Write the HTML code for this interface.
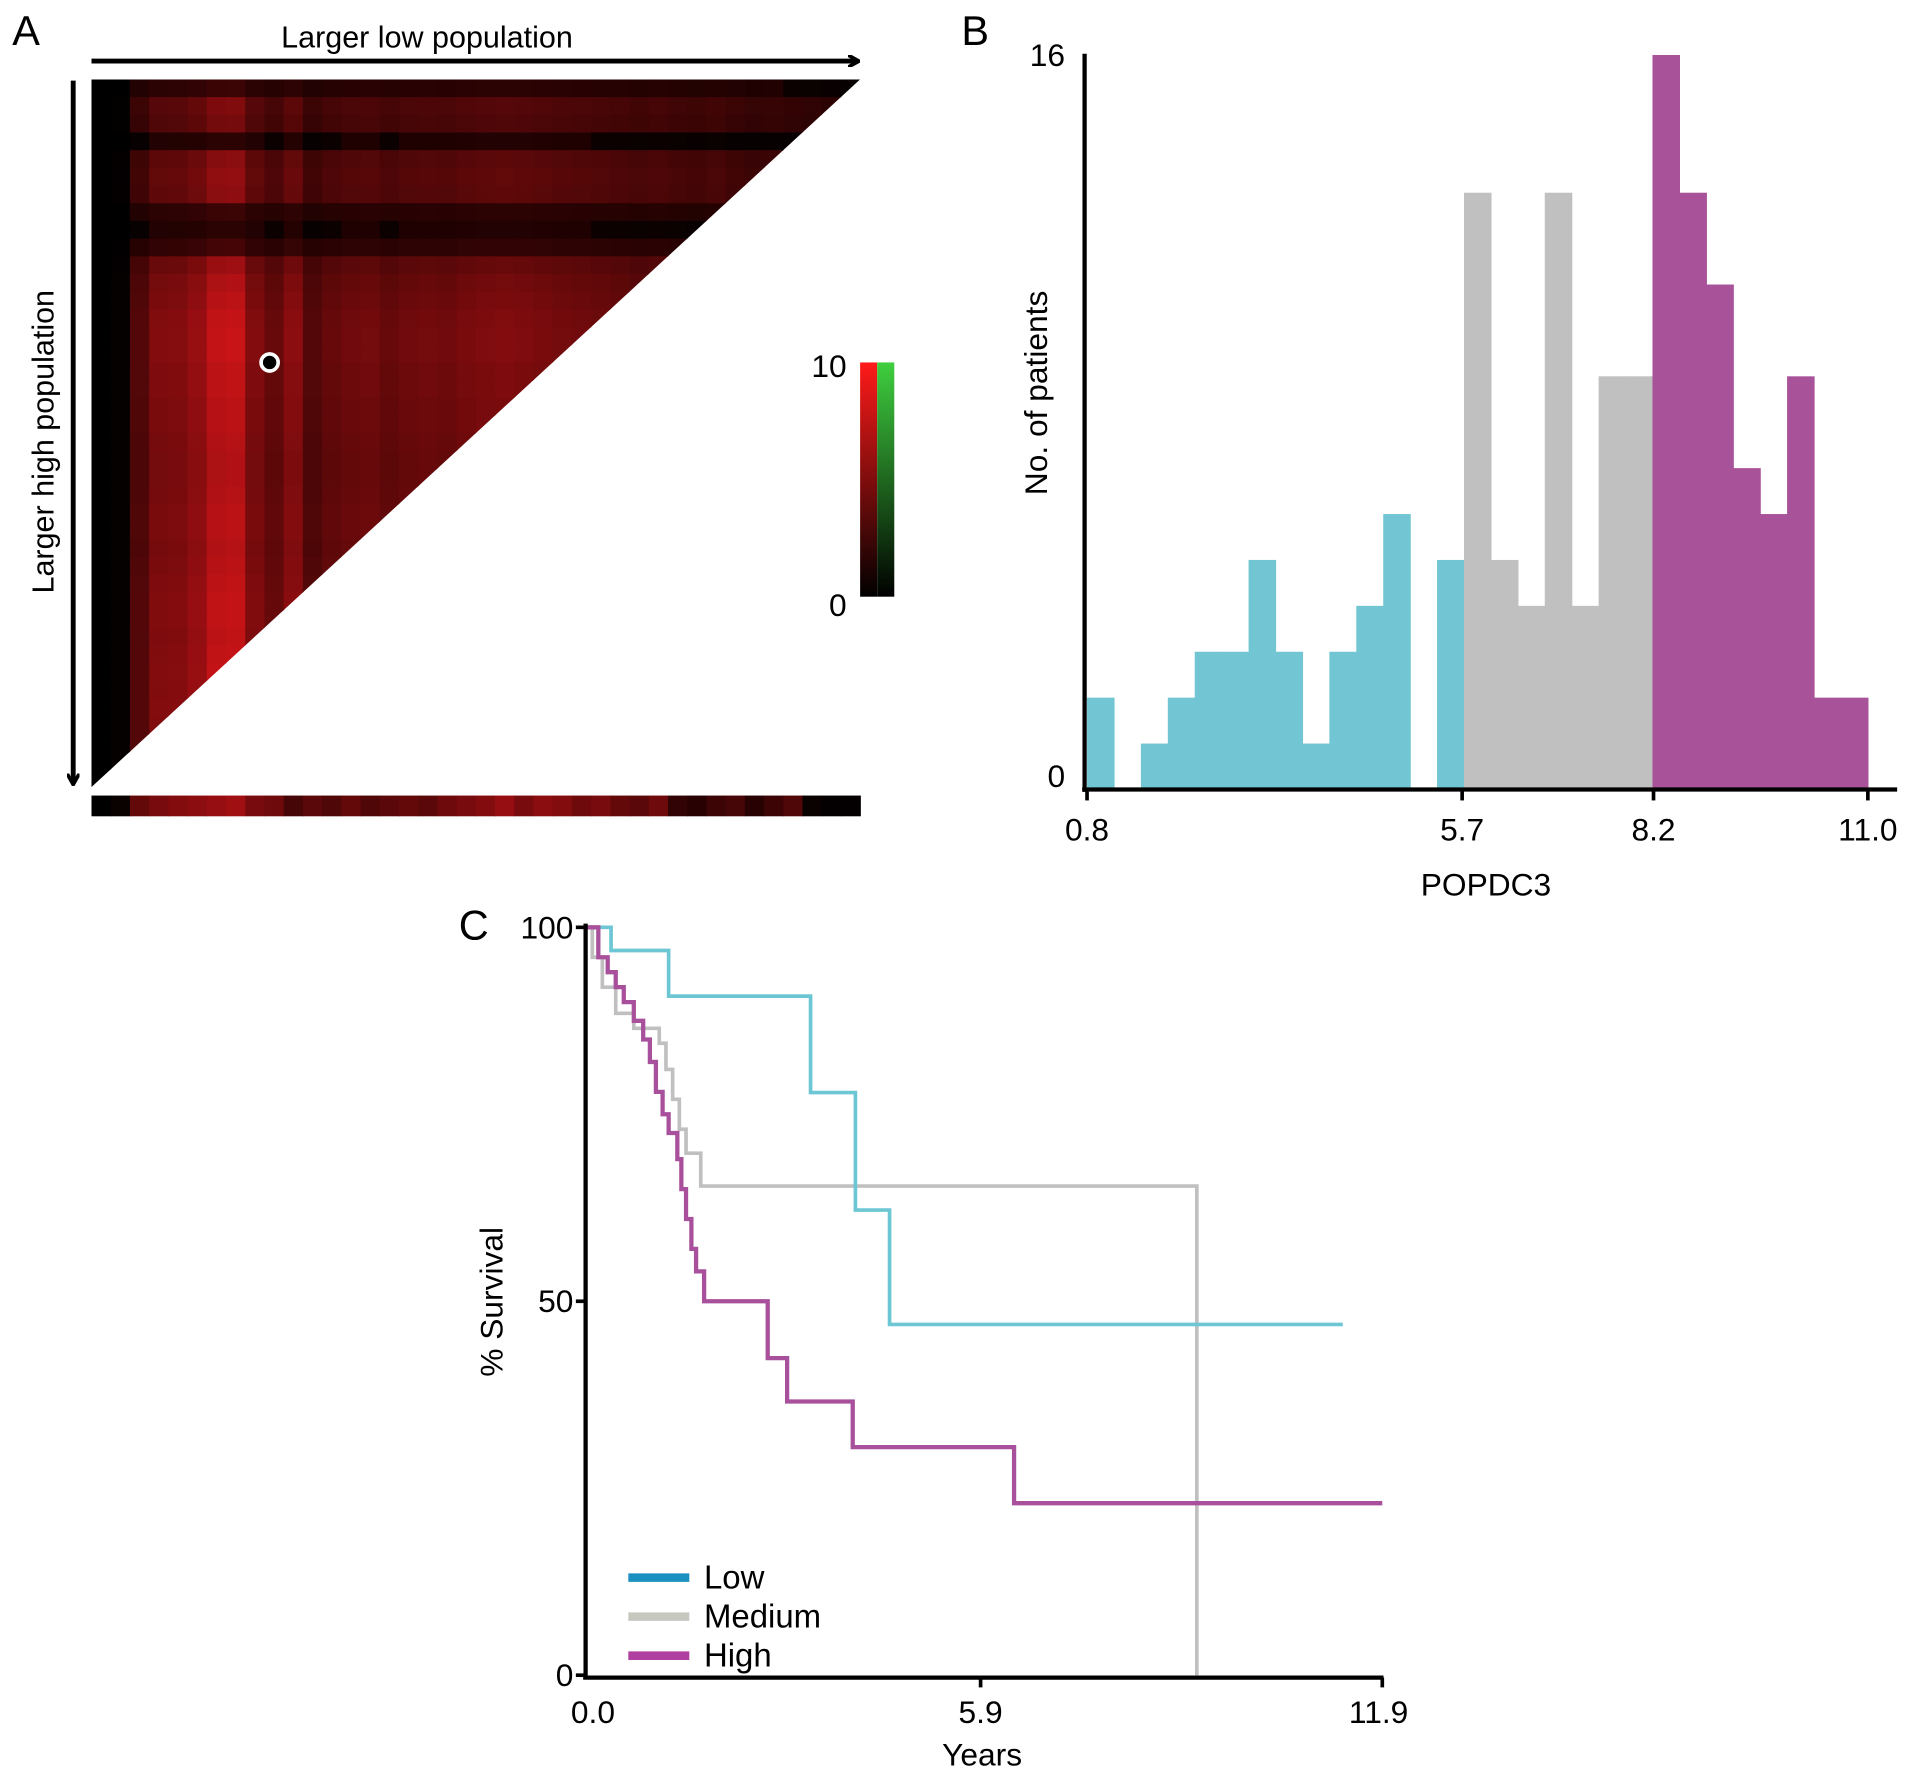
<!DOCTYPE html>
<html><head><meta charset="utf-8"><style>
html,body{margin:0;padding:0;background:#fff;}
svg{display:block;font-family:"Liberation Sans",Arial,sans-serif;}
</style></head><body>
<svg id="fig" width="1913" height="1779" viewBox="0 0 1568 1458" xmlns="http://www.w3.org/2000/svg">
<defs>
<clipPath id="tri"><polygon points="75,65 705,65 75,645"/></clipPath>
<linearGradient id="cbR" x1="0" y1="0" x2="0" y2="1"><stop offset="0" stop-color="#ff1a1a"/><stop offset="1" stop-color="#000"/></linearGradient>
<linearGradient id="cbG" x1="0" y1="0" x2="0" y2="1"><stop offset="0" stop-color="#3fcf3f"/><stop offset="1" stop-color="#000"/></linearGradient>
<marker id="ah" markerWidth="10" markerHeight="10" refX="8" refY="5" orient="auto" markerUnits="userSpaceOnUse"><path d="M0,0 L9,5 L0,10" fill="none" stroke="#000" stroke-width="3"/></marker>
</defs>
<!-- Panel A -->
<text x="10" y="37" font-size="34">A</text>
<line x1="75" y1="50" x2="703" y2="50" stroke="#000" stroke-width="4" marker-end="url(#ah)"/>
<text x="350" y="39" font-size="25" text-anchor="middle">Larger low population</text>
<line x1="60" y1="66" x2="60" y2="642" stroke="#000" stroke-width="4" marker-end="url(#ah)"/>
<text transform="translate(44,362) rotate(-90)" font-size="25" text-anchor="middle">Larger high population</text>
<g id="heat" clip-path="url(#tri)"></g>
<g id="strip"></g>
<circle cx="221" cy="297" r="7" fill="#000" stroke="#fff" stroke-width="3"/>
<rect x="705" y="297" width="14" height="192" fill="url(#cbR)"/>
<rect x="719" y="297" width="14" height="192" fill="url(#cbG)"/>
<text x="694" y="309" font-size="26" text-anchor="end">10</text>
<text x="694" y="505" font-size="26" text-anchor="end">0</text>
<!-- Panel B -->
<text x="788" y="37" font-size="34">B</text>
<g id="hist"></g>
<line x1="889" y1="44" x2="889" y2="649" stroke="#000" stroke-width="3.5"/>
<line x1="887" y1="647" x2="1555" y2="647" stroke="#000" stroke-width="3.5"/>
<g id="histTicks"></g>
<text transform="translate(858,322) rotate(-90)" font-size="26" text-anchor="middle">No. of patients</text>
<text x="1218" y="734" font-size="26" text-anchor="middle">POPDC3</text>
<!-- Panel C -->
<text x="376" y="770" font-size="34">C</text>
<g id="km"></g>
<line x1="480" y1="757" x2="480" y2="1376" stroke="#000" stroke-width="3.5"/>
<line x1="478" y1="1375" x2="1134" y2="1375" stroke="#000" stroke-width="3.5"/>
<g id="kmTicks"></g>
<text transform="translate(412,1067) rotate(-90)" font-size="26" text-anchor="middle">% Survival</text>
<text x="805" y="1447" font-size="26" text-anchor="middle">Years</text>
<g>
<line x1="515" y1="1293" x2="565" y2="1293" stroke="#1a8fc0" stroke-width="7"/>
<text x="577" y="1302" font-size="27">Low</text>
<line x1="515" y1="1325" x2="565" y2="1325" stroke="#c6c8c0" stroke-width="7"/>
<text x="577" y="1334" font-size="27">Medium</text>
<line x1="515" y1="1357" x2="565" y2="1357" stroke="#b040a0" stroke-width="7"/>
<text x="577" y="1366" font-size="27">High</text>
</g>
</svg>
<script>
var NS="http://www.w3.org/2000/svg";
// Heatmap intensity profiles
var heatCols=[0,0.03,0.35,0.6,0.62,0.72,0.95,0.98,0.6,0.45,0.65,0.35,0.45,0.5,0.52,0.45,0.5,0.52,0.5,0.55,0.58,0.6,0.58,0.55,0.52,0.5,0.48,0.45,0.42,0.45,0.4,0.38,0.42,0.35,0.3,0.32,0.28,0.25,0.22,0.2];
var heatRows=[0.2,0.55,0.5,0.12,0.6,0.65,0.62,0.2,0.12,0.25,0.7,0.8,0.85,0.9,0.92,0.92,0.88,0.88,0.85,0.85,0.82,0.8,0.8,0.82,0.85,0.85,0.82,0.85,0.88,0.9,0.9,0.88,0.9,0.92,0.9,0.92,0.9,0.92,0.9,0.9];
var stripVals=[0,0.05,0.4,0.5,0.55,0.6,0.65,0.7,0.5,0.45,0.25,0.35,0.3,0.4,0.3,0.35,0.4,0.35,0.45,0.5,0.55,0.65,0.5,0.6,0.55,0.45,0.5,0.4,0.35,0.45,0.15,0.1,0.2,0.25,0.1,0.2,0.3,0.05,0.02,0.02];
function heatColor(v){var r=Math.round(20+v*200),g=Math.round(v*22),b=Math.round(v*26);if(v<0.06){r=Math.round(v*200);}return "rgb("+r+","+g+","+b+")";}
var hg=document.getElementById('heat');
var cw=630/heatCols.length, rh=580/heatRows.length;
heatRows.forEach(function(rv,j){heatCols.forEach(function(cv,i){
  var r=document.createElementNS(NS,'rect');
  r.setAttribute('x',75+i*cw);r.setAttribute('y',65+j*rh);r.setAttribute('width',cw+0.6);r.setAttribute('height',rh+0.6);
  r.setAttribute('fill',heatColor(cv*rv));
  
  
  hg.appendChild(r);});});
var sg=document.getElementById('strip');
stripVals.forEach(function(v,i){var r=document.createElementNS(NS,'rect');
  r.setAttribute('x',75+i*cw);r.setAttribute('y',652);r.setAttribute('width',cw+0.6);r.setAttribute('height',17);
  r.setAttribute('fill',heatColor(v));
  
  
  sg.appendChild(r);});

// Histogram data
var histMin=0.8, histMax=11.0;
var histCounts=[2,0,1,2,3,3,5,3,1,3,4,6,0,5,13,5,4,13,4,9,9,16,13,11,7,6,9,2,2];
var histGroups=["low","low","low","low","low","low","low","low","low","low","low","low","low","low","med","med","med","med","med","med","med","high","high","high","high","high","high","high","high"];
var histXTicks=[0.8,5.7,8.2,11.0];
var histYTicks=[0,16];
function hx(v){return 891+(v-0.8)*640/10.2;}
function hy(c){return 647-c*(602/16);}
var gcol={low:"#72c6d4",med:"#c0c0c0",high:"#a8529a"};
var bw=(histMax-histMin)/histCounts.length;
var hgp=document.getElementById('hist');
histCounts.forEach(function(c,i){if(!c)return;var x0=hx(histMin+i*bw),x1=hx(histMin+(i+1)*bw);
  var r=document.createElementNS(NS,'rect');
  r.setAttribute('x',x0);r.setAttribute('y',hy(c));r.setAttribute('width',x1-x0+0.5);r.setAttribute('height',hy(0)-hy(c));
  r.setAttribute('fill',gcol[histGroups[i]]);
  
  
  hgp.appendChild(r);});
var ht=document.getElementById('histTicks');
histXTicks.forEach(function(v){var l=document.createElementNS(NS,'line');
  l.setAttribute('x1',hx(v));l.setAttribute('x2',hx(v));l.setAttribute('y1',647);l.setAttribute('y2',656);l.setAttribute('stroke','#000');l.setAttribute('stroke-width',3);
  
  
  ht.appendChild(l);
  var t=document.createElementNS(NS,'text');t.setAttribute('x',hx(v));t.setAttribute('y',689);t.setAttribute('font-size',26);t.setAttribute('text-anchor','middle');t.textContent=v.toFixed(1);
  
  
  ht.appendChild(t);});
histYTicks.forEach(function(v){var t=document.createElementNS(NS,'text');t.setAttribute('x',873);t.setAttribute('y',hy(v)+(v?9:-2));t.setAttribute('font-size',26);t.setAttribute('text-anchor','end');t.textContent=v;
  
  
  ht.appendChild(t);});

// KM data: [time, survival after step]
var lowTimes=[0,0.38,1.24,3.36,4.03,4.54,11.31];
var lowSurv=[100,96.9,90.8,77.9,62.2,46.9,46.9];
var medTimes=[0,0.1,0.25,0.45,0.72,1.1,1.2,1.3,1.4,1.5,1.72,9.13];
var medSurv=[100,96,92,88.5,86.5,84.5,81,77,73,69.8,65.4,0];
var highTimes=[0,0.19,0.33,0.45,0.57,0.72,0.86,0.96,1.05,1.15,1.24,1.37,1.43,1.5,1.58,1.65,1.77,2.72,3.01,3.99,6.4,11.9];
var highSurv=[100,96,94,92,90,87.5,85,82,78,75,72.5,69,65,61,57,54,50,42.4,36.6,30.5,23,23];
var kmXTicks=[0.0,5.9,11.9];
var kmYTicks=[0,50,100];
function kx(t){return 480+t*(653/11.9);}
function ky(s){return 1373-s*(613/100);}
var kg=document.getElementById('km');
function step(times,surv,color,name,w){var d="M"+kx(times[0])+","+ky(surv[0]);
  for(var i=1;i<times.length;i++){d+=" H"+kx(times[i])+" V"+ky(surv[i]);}
  var p=document.createElementNS(NS,'path');p.setAttribute('d',d);p.setAttribute('fill','none');p.setAttribute('stroke',color);p.setAttribute('stroke-width',w);
  
  
  kg.appendChild(p);}
step(medTimes,medSurv,"#c0c0c0","km-medium-curve",3);
step(lowTimes,lowSurv,"#6cc6d4","km-low-curve",3);
step(highTimes,highSurv,"#a8509c","km-high-curve",3.5);
var kt=document.getElementById('kmTicks');
kmXTicks.forEach(function(v){if(v>0){var l=document.createElementNS(NS,'line');
  l.setAttribute('x1',kx(v));l.setAttribute('x2',kx(v));l.setAttribute('y1',1375);l.setAttribute('y2',1383);l.setAttribute('stroke','#000');l.setAttribute('stroke-width',3);
  
  
  kt.appendChild(l);}
  var t=document.createElementNS(NS,'text');t.setAttribute('x',kx(v)+(v===0?6:(v>11?-3:0)));t.setAttribute('y',1412);t.setAttribute('font-size',26);t.setAttribute('text-anchor','middle');t.textContent=v.toFixed(1);
  
  
  kt.appendChild(t);});
kmYTicks.forEach(function(v){var l=document.createElementNS(NS,'line');
  l.setAttribute('x1',472);l.setAttribute('x2',480);l.setAttribute('y1',ky(v));l.setAttribute('y2',ky(v));l.setAttribute('stroke','#000');l.setAttribute('stroke-width',3);
  
  
  kt.appendChild(l);
  var t=document.createElementNS(NS,'text');t.setAttribute('x',470);t.setAttribute('y',ky(v)+9);t.setAttribute('font-size',26);t.setAttribute('text-anchor','end');t.textContent=v;
  
  
  kt.appendChild(t);});
</script>
</body></html>
